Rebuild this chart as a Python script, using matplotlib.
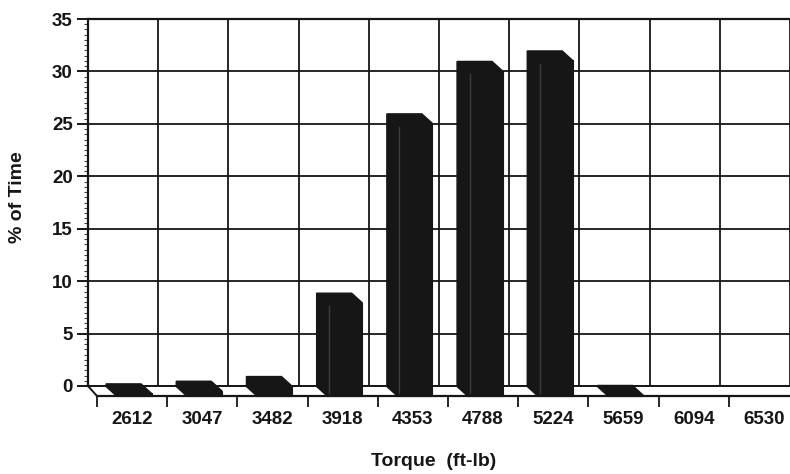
import matplotlib
matplotlib.use("Agg")
import matplotlib.pyplot as plt
from matplotlib.ticker import MultipleLocator, FixedLocator, NullFormatter

# ---- data ----
categories = ["2612", "3047", "3482", "3918", "4353", "4788", "5224", "5659", "6094", "6530"]
pct_time = [0.25, 0.5, 0.95, 8.9, 26.0, 31.0, 32.0, 0.1, 0.0, 0.0]
y_ticks = [0, 5, 10, 15, 20, 25, 30, 35]
x_title = "Torque  (ft-lb)"
y_title = "% of Time"

# ---- style / geometry ----
W, H, DPI = 790, 474, 100
plt.rcParams["font.family"] = ["Liberation Sans", "DejaVu Sans"]
plt.rcParams["font.weight"] = "bold"

fig = plt.figure(figsize=(W / DPI, H / DPI), dpi=DPI)
wall_l, wall_r, wall_t, wall_b = 88, 790, 19, 386
ax = fig.add_axes([wall_l / W, 1 - wall_b / H, (wall_r - wall_l) / W, (wall_b - wall_t) / H])
n = len(categories)
ax.set_xlim(0, n)
ax.set_ylim(0, 35)

# depth vector of the pseudo-3D floor (data units)
px_per_x = (wall_r - wall_l) / n
px_per_y = (wall_b - wall_t) / 35
dx = 9 / px_per_x
dy = -10 / px_per_y

ink = "#161616"

# back-wall grid
ax.set_yticks(y_ticks)
ax.yaxis.set_minor_locator(MultipleLocator(0.5))
ax.set_xticks([])
for i in range(n + 1):
    ax.axvline(i, color=ink, lw=1.3, zorder=1)
for v in y_ticks:
    ax.axhline(v, color=ink, lw=1.3, zorder=1)

# floor
floor = plt.Polygon([(0, 0), (n + 1, 0), (n + 1 + dx, dy), (dx, dy)], closed=True,
                    facecolor="white", edgecolor=ink, lw=1.4, zorder=2, clip_on=False)
ax.add_patch(floor)

# bars
bw = 35 / px_per_x
f0, f1 = 0.05, 1.0
bdx = 11 / px_per_x
bdy = -10 / px_per_y
for i, v in enumerate(pct_time):
    if v <= 0:
        continue
    xl = i + 0.5 - bw / 2
    x0, y0 = xl + f0 * dx, f0 * dy
    x1, y1 = x0 + bdx * (f1 - f0), y0 + bdy * (f1 - f0)
    ax.fill([x0, x0, x0 + bw, x1 + bw, x1 + bw, x1],
            [y0, y0 + v, y0 + v, y1 + v, y1, y1],
            facecolor=ink, edgecolor=ink, lw=1.0, zorder=3, clip_on=False)
    ax.bar(x1, v, width=bw, bottom=y1, align="edge", color=ink, edgecolor=ink,
           lw=0.8, zorder=4, clip_on=False)
    if v > 2:
        ax.plot([x1 + 0.03, x1 + 0.03], [y1 + 0.3, y1 + v - 0.3], color="#3c3c3c",
                lw=1.0, zorder=5, clip_on=False)

# spines
ax.spines["right"].set_visible(False)
ax.spines["top"].set_linewidth(1.6)
ax.spines["left"].set_linewidth(1.6)
ax.spines["bottom"].set_position(("data", dy))
ax.spines["bottom"].set_bounds(dx, n + dx)
ax.spines["bottom"].set_linewidth(1.6)
for s in ax.spines.values():
    s.set_color(ink)

# x ticks on the front edge of the floor
ax.xaxis.set_major_locator(FixedLocator([i + dx for i in range(n + 1)]))
ax.xaxis.set_major_formatter(NullFormatter())
ax.xaxis.set_minor_locator(FixedLocator([i + 0.5 + dx for i in range(n)]))
ax.set_xticklabels(categories, minor=True)
ax.tick_params(axis="x", which="major", length=8, width=1.3, color=ink, direction="out")
ax.tick_params(axis="x", which="minor", length=0, pad=11, labelsize=13.5, labelcolor=ink)
ax.tick_params(axis="y", which="major", length=8, width=1.4, color=ink, pad=3,
               labelsize=13.5, labelcolor=ink)
ax.tick_params(axis="y", which="minor", length=3, width=0.8, color="#444444")
for lab in ax.get_xticklabels(minor=True) + ax.get_yticklabels():
    lab.set_fontweight("bold")

fig.text(18 / W, 1 - 197 / H, y_title, rotation=90, ha="center", va="center",
         fontsize=14, fontweight="bold", color=ink)
fig.text(434 / W, 1 - 461 / H, x_title, ha="center", va="center",
         fontsize=14, fontweight="bold", color=ink)

fig.savefig("out.png", dpi=DPI)
